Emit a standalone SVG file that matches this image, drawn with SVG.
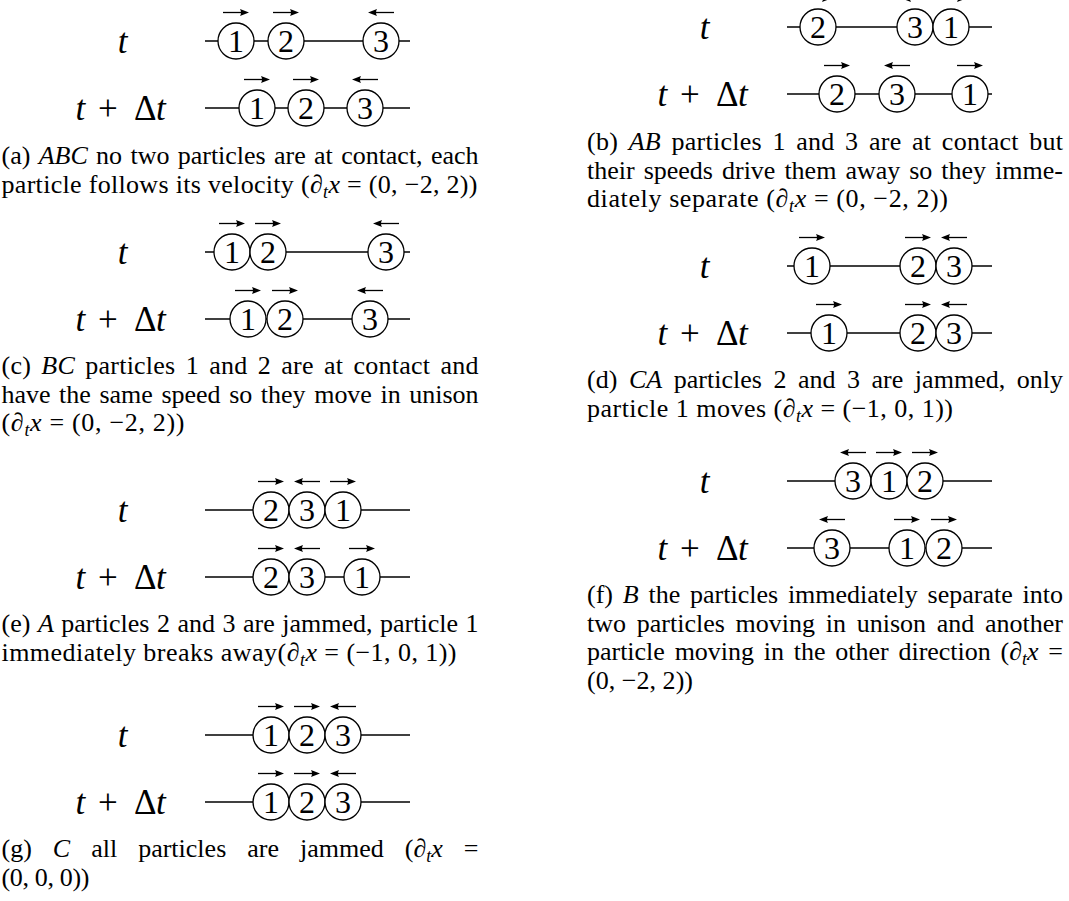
<svg xmlns="http://www.w3.org/2000/svg" width="1069" height="901" viewBox="0 0 1069 901">
<style>
.ln{stroke:#000;stroke-width:1.3;fill:none}
.p{fill:#fff;stroke:#000;stroke-width:1.3}
.d{font-family:"Liberation Serif",serif;font-size:32px;text-anchor:middle}
.lb{font-family:"Liberation Serif",serif;font-size:35px}
.lbm{font-family:"Liberation Serif",serif;font-size:35px;font-style:italic;text-anchor:middle}
.cap{font-family:"Liberation Serif",serif;font-size:26px}
.i{font-style:italic}
.sub{font-style:italic;font-size:18px}
</style>
<defs>
<g id="ar"><line x1="-13" y1="0" x2="6" y2="0" stroke="#000" stroke-width="1.3"/><path d="M13,0 L4,-3.6 Q6,0 4,3.6 Z" fill="#000"/></g>
<g id="al"><line x1="13" y1="0" x2="-6" y2="0" stroke="#000" stroke-width="1.3"/><path d="M-13,0 L-4,-3.6 Q-6,0 -4,3.6 Z" fill="#000"/></g>
</defs>
<rect width="1069" height="901" fill="#fff"/>

<g id="connectors">
<line class="ln" x1="205" y1="41" x2="410" y2="41"/>
<line class="ln" x1="205" y1="108" x2="410" y2="108"/>
<line class="ln" x1="787" y1="27" x2="992" y2="27"/>
<line class="ln" x1="787" y1="94" x2="992" y2="94"/>
<line class="ln" x1="205" y1="252" x2="410" y2="252"/>
<line class="ln" x1="205" y1="319" x2="410" y2="319"/>
<line class="ln" x1="787" y1="266" x2="992" y2="266"/>
<line class="ln" x1="787" y1="333" x2="992" y2="333"/>
<line class="ln" x1="205" y1="510" x2="410" y2="510"/>
<line class="ln" x1="205" y1="577" x2="410" y2="577"/>
<line class="ln" x1="787" y1="481" x2="992" y2="481"/>
<line class="ln" x1="787" y1="548" x2="992" y2="548"/>
<line class="ln" x1="205" y1="735" x2="410" y2="735"/>
<line class="ln" x1="205" y1="802" x2="410" y2="802"/>
<use href="#ar" x="236" y="12.5"/><use href="#ar" x="286" y="12.5"/><use href="#al" x="381" y="12.5"/>
<use href="#ar" x="257" y="79.5"/><use href="#ar" x="306" y="79.5"/><use href="#al" x="365" y="79.5"/>
<use href="#ar" x="818" y="-1.5"/><use href="#al" x="915" y="-1.5"/><use href="#ar" x="953" y="-1.5"/>
<use href="#ar" x="837" y="65.5"/><use href="#al" x="897" y="65.5"/><use href="#ar" x="970" y="65.5"/>
<use href="#ar" x="232" y="223.5"/><use href="#ar" x="268" y="223.5"/><use href="#al" x="386" y="223.5"/>
<use href="#ar" x="248" y="290.5"/><use href="#ar" x="285" y="290.5"/><use href="#al" x="370" y="290.5"/>
<use href="#ar" x="812" y="237.5"/><use href="#ar" x="918" y="237.5"/><use href="#al" x="954" y="237.5"/>
<use href="#ar" x="829" y="304.5"/><use href="#ar" x="918" y="304.5"/><use href="#al" x="954" y="304.5"/>
<use href="#ar" x="271" y="481.5"/><use href="#al" x="307" y="481.5"/><use href="#ar" x="343" y="481.5"/>
<use href="#ar" x="271" y="548.5"/><use href="#al" x="307" y="548.5"/><use href="#ar" x="362" y="548.5"/>
<use href="#al" x="853" y="452.5"/><use href="#ar" x="889" y="452.5"/><use href="#ar" x="925" y="452.5"/>
<use href="#al" x="832" y="519.5"/><use href="#ar" x="907" y="519.5"/><use href="#ar" x="944" y="519.5"/>
<use href="#ar" x="271" y="706.5"/><use href="#ar" x="307" y="706.5"/><use href="#al" x="343" y="706.5"/>
<use href="#ar" x="271" y="773.5"/><use href="#ar" x="307" y="773.5"/><use href="#al" x="343" y="773.5"/>
</g>

<g id="fig-a">
<text class="lbm" x="122.5" y="52.5">t</text>
<text class="lb" y="119.5"><tspan class="i" x="75.5">t</tspan><tspan x="98">+</tspan><tspan x="134">Δ</tspan><tspan class="i" x="156">t</tspan></text>
<g id="a-t-1"><circle class="p" cx="236" cy="41" r="18"/><text class="d" x="236" y="52">1</text></g>
<g id="a-t-2"><circle class="p" cx="286" cy="41" r="18"/><text class="d" x="286" y="52">2</text></g>
<g id="a-t-3"><circle class="p" cx="381" cy="41" r="18"/><text class="d" x="381" y="52">3</text></g>
<g id="a-dt-1"><circle class="p" cx="257" cy="108" r="18"/><text class="d" x="257" y="119">1</text></g>
<g id="a-dt-2"><circle class="p" cx="306" cy="108" r="18"/><text class="d" x="306" y="119">2</text></g>
<g id="a-dt-3"><circle class="p" cx="365" cy="108" r="18"/><text class="d" x="365" y="119">3</text></g>
<text class="cap" x="1.5" y="164" word-spacing="1.9" textLength="477" lengthAdjust="spacing">(a) <tspan class="i">ABC</tspan> no two particles are at contact, each</text>
<text class="cap" x="1.5" y="192.5" textLength="476" lengthAdjust="spacing">particle follows its velocity (<tspan class="i">∂</tspan><tspan class="sub" dy="5">t</tspan><tspan class="i" dy="-5">x</tspan> = (0, −2, 2))</text>
</g>

<g id="fig-b">
<text class="lbm" x="704.5" y="38.5">t</text>
<text class="lb" y="105.5"><tspan class="i" x="657.5">t</tspan><tspan x="680">+</tspan><tspan x="716">Δ</tspan><tspan class="i" x="738">t</tspan></text>
<g id="b-t-2"><circle class="p" cx="818" cy="27" r="18"/><text class="d" x="818" y="38">2</text></g>
<g id="b-t-3"><circle class="p" cx="915" cy="27" r="18"/><text class="d" x="915" y="38">3</text></g>
<g id="b-t-1"><circle class="p" cx="951" cy="27" r="18"/><text class="d" x="951" y="38">1</text></g>
<g id="b-dt-2"><circle class="p" cx="837" cy="94" r="18"/><text class="d" x="837" y="105">2</text></g>
<g id="b-dt-3"><circle class="p" cx="897" cy="94" r="18"/><text class="d" x="897" y="105">3</text></g>
<g id="b-dt-1"><circle class="p" cx="970" cy="94" r="18"/><text class="d" x="970" y="105">1</text></g>
<text class="cap" x="587" y="150" word-spacing="3.8" textLength="476" lengthAdjust="spacing">(b) <tspan class="i">AB</tspan> particles 1 and 3 are at contact but</text>
<text class="cap" x="587" y="178.5" word-spacing="2.5" textLength="476" lengthAdjust="spacing">their speeds drive them away so they imme-</text>
<text class="cap" x="587" y="207" textLength="361" lengthAdjust="spacing">diately separate (<tspan class="i">∂</tspan><tspan class="sub" dy="5">t</tspan><tspan class="i" dy="-5">x</tspan> = (0, −2, 2))</text>
</g>

<g id="fig-c">
<text class="lbm" x="122.5" y="263.5">t</text>
<text class="lb" y="330.5"><tspan class="i" x="75.5">t</tspan><tspan x="98">+</tspan><tspan x="134">Δ</tspan><tspan class="i" x="156">t</tspan></text>
<g id="c-t-1"><circle class="p" cx="232" cy="252" r="18"/><text class="d" x="232" y="263">1</text></g>
<g id="c-t-2"><circle class="p" cx="268" cy="252" r="18"/><text class="d" x="268" y="263">2</text></g>
<g id="c-t-3"><circle class="p" cx="386" cy="252" r="18"/><text class="d" x="386" y="263">3</text></g>
<g id="c-dt-1"><circle class="p" cx="248" cy="319" r="18"/><text class="d" x="248" y="330">1</text></g>
<g id="c-dt-2"><circle class="p" cx="285" cy="319" r="18"/><text class="d" x="285" y="330">2</text></g>
<g id="c-dt-3"><circle class="p" cx="370" cy="319" r="18"/><text class="d" x="370" y="330">3</text></g>
<text class="cap" x="1.5" y="374" word-spacing="3.6" textLength="477" lengthAdjust="spacing">(c) <tspan class="i">BC</tspan> particles 1 and 2 are at contact and</text>
<text class="cap" x="1.5" y="402.5" word-spacing="2.2" textLength="477" lengthAdjust="spacing">have the same speed so they move in unison</text>
<text class="cap" x="1.5" y="431" textLength="183" lengthAdjust="spacing">(<tspan class="i">∂</tspan><tspan class="sub" dy="5">t</tspan><tspan class="i" dy="-5">x</tspan> = (0, −2, 2))</text>
</g>

<g id="fig-d">
<text class="lbm" x="704.5" y="277.5">t</text>
<text class="lb" y="344.5"><tspan class="i" x="657.5">t</tspan><tspan x="680">+</tspan><tspan x="716">Δ</tspan><tspan class="i" x="738">t</tspan></text>
<g id="d-t-1"><circle class="p" cx="812" cy="266" r="18"/><text class="d" x="812" y="277">1</text></g>
<g id="d-t-2"><circle class="p" cx="918" cy="266" r="18"/><text class="d" x="918" y="277">2</text></g>
<g id="d-t-3"><circle class="p" cx="954" cy="266" r="18"/><text class="d" x="954" y="277">3</text></g>
<g id="d-dt-1"><circle class="p" cx="829" cy="333" r="18"/><text class="d" x="829" y="344">1</text></g>
<g id="d-dt-2"><circle class="p" cx="918" cy="333" r="18"/><text class="d" x="918" y="344">2</text></g>
<g id="d-dt-3"><circle class="p" cx="954" cy="333" r="18"/><text class="d" x="954" y="344">3</text></g>
<text class="cap" x="587" y="388" word-spacing="5" textLength="476" lengthAdjust="spacing">(d) <tspan class="i">CA</tspan> particles 2 and 3 are jammed, only</text>
<text class="cap" x="587" y="416.5" textLength="366" lengthAdjust="spacing">particle 1 moves (<tspan class="i">∂</tspan><tspan class="sub" dy="5">t</tspan><tspan class="i" dy="-5">x</tspan> = (−1, 0, 1))</text>
</g>

<g id="fig-e">
<text class="lbm" x="122.5" y="521.5">t</text>
<text class="lb" y="588.5"><tspan class="i" x="75.5">t</tspan><tspan x="98">+</tspan><tspan x="134">Δ</tspan><tspan class="i" x="156">t</tspan></text>
<g id="e-t-2"><circle class="p" cx="271" cy="510" r="18"/><text class="d" x="271" y="521">2</text></g>
<g id="e-t-3"><circle class="p" cx="307" cy="510" r="18"/><text class="d" x="307" y="521">3</text></g>
<g id="e-t-1"><circle class="p" cx="343" cy="510" r="18"/><text class="d" x="343" y="521">1</text></g>
<g id="e-dt-2"><circle class="p" cx="271" cy="577" r="18"/><text class="d" x="271" y="588">2</text></g>
<g id="e-dt-3"><circle class="p" cx="307" cy="577" r="18"/><text class="d" x="307" y="588">3</text></g>
<g id="e-dt-1"><circle class="p" cx="362" cy="577" r="18"/><text class="d" x="362" y="588">1</text></g>
<text class="cap" x="1.5" y="632" word-spacing="1.1" textLength="477" lengthAdjust="spacing">(e) <tspan class="i">A</tspan> particles 2 and 3 are jammed, particle 1</text>
<text class="cap" x="1.5" y="660.5" textLength="455" lengthAdjust="spacing">immediately breaks away(<tspan class="i">∂</tspan><tspan class="sub" dy="5">t</tspan><tspan class="i" dy="-5">x</tspan> = (−1, 0, 1))</text>
</g>

<g id="fig-f">
<text class="lbm" x="704.5" y="492.5">t</text>
<text class="lb" y="559.5"><tspan class="i" x="657.5">t</tspan><tspan x="680">+</tspan><tspan x="716">Δ</tspan><tspan class="i" x="738">t</tspan></text>
<g id="f-t-3"><circle class="p" cx="853" cy="481" r="18"/><text class="d" x="853" y="492">3</text></g>
<g id="f-t-1"><circle class="p" cx="889" cy="481" r="18"/><text class="d" x="889" y="492">1</text></g>
<g id="f-t-2"><circle class="p" cx="925" cy="481" r="18"/><text class="d" x="925" y="492">2</text></g>
<g id="f-dt-3"><circle class="p" cx="832" cy="548" r="18"/><text class="d" x="832" y="559">3</text></g>
<g id="f-dt-1"><circle class="p" cx="907" cy="548" r="18"/><text class="d" x="907" y="559">1</text></g>
<g id="f-dt-2"><circle class="p" cx="944" cy="548" r="18"/><text class="d" x="944" y="559">2</text></g>
<text class="cap" x="587" y="603" word-spacing="3.3" textLength="476" lengthAdjust="spacing">(f) <tspan class="i">B</tspan> the particles immediately separate into</text>
<text class="cap" x="587" y="631.5" word-spacing="4.2" textLength="476" lengthAdjust="spacing">two particles moving in unison and another</text>
<text class="cap" x="587" y="660" word-spacing="3.3" textLength="476" lengthAdjust="spacing">particle moving in the other direction (<tspan class="i">∂</tspan><tspan class="sub" dy="5">t</tspan><tspan class="i" dy="-5">x</tspan> =</text>
<text class="cap" x="587" y="688.5" textLength="106" lengthAdjust="spacing">(0, −2, 2))</text>
</g>

<g id="fig-g">
<text class="lbm" x="122.5" y="746.5">t</text>
<text class="lb" y="813.5"><tspan class="i" x="75.5">t</tspan><tspan x="98">+</tspan><tspan x="134">Δ</tspan><tspan class="i" x="156">t</tspan></text>
<g id="g-t-1"><circle class="p" cx="271" cy="735" r="18"/><text class="d" x="271" y="746">1</text></g>
<g id="g-t-2"><circle class="p" cx="307" cy="735" r="18"/><text class="d" x="307" y="746">2</text></g>
<g id="g-t-3"><circle class="p" cx="343" cy="735" r="18"/><text class="d" x="343" y="746">3</text></g>
<g id="g-dt-1"><circle class="p" cx="271" cy="802" r="18"/><text class="d" x="271" y="813">1</text></g>
<g id="g-dt-2"><circle class="p" cx="307" cy="802" r="18"/><text class="d" x="307" y="813">2</text></g>
<g id="g-dt-3"><circle class="p" cx="343" cy="802" r="18"/><text class="d" x="343" y="813">3</text></g>
<text class="cap" x="1.5" y="857" word-spacing="14.5" textLength="477" lengthAdjust="spacing">(g) <tspan class="i">C</tspan> all particles are jammed (<tspan class="i">∂</tspan><tspan class="sub" dy="5">t</tspan><tspan class="i" dy="-5">x</tspan> =</text>
<text class="cap" x="1.5" y="885.5" textLength="88" lengthAdjust="spacing">(0, 0, 0))</text>
</g>
</svg>
